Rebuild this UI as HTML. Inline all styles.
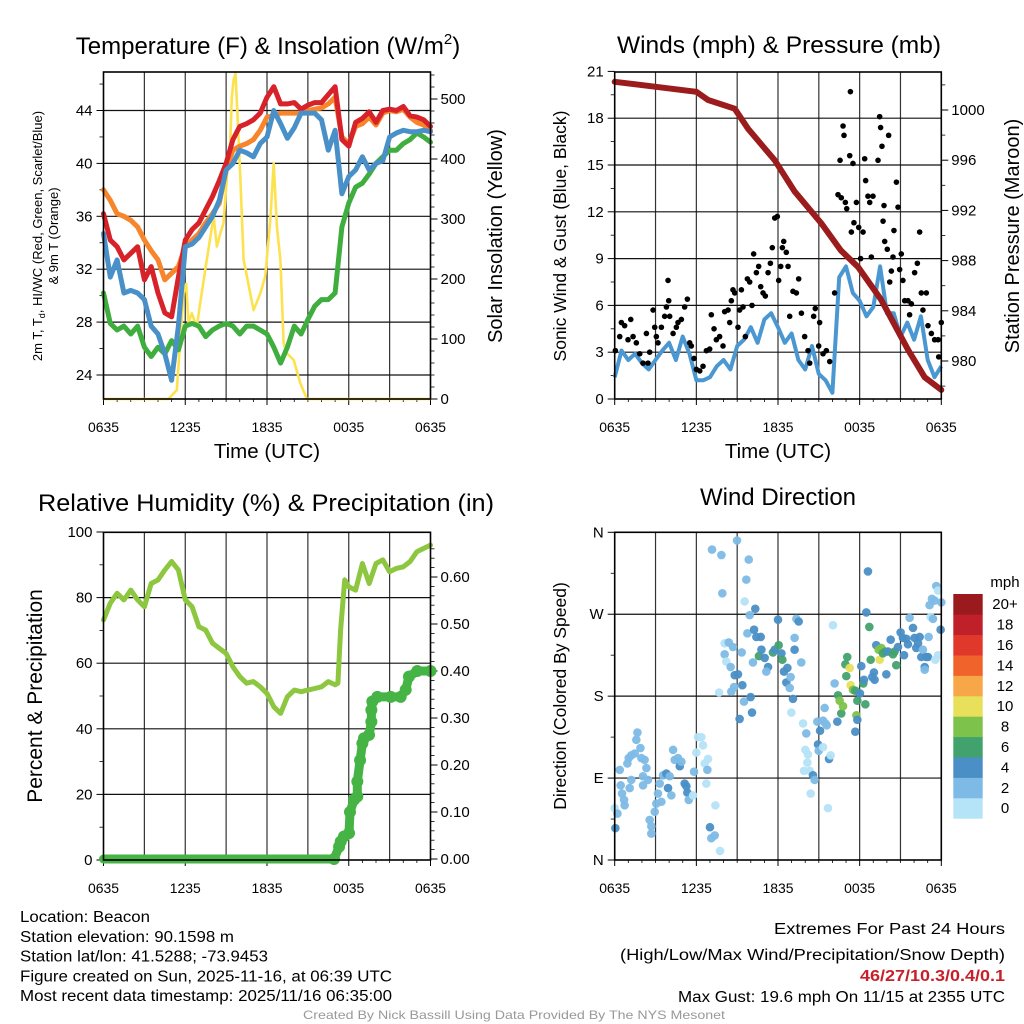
<!DOCTYPE html>
<html><head><meta charset="utf-8"><style>
html,body{margin:0;padding:0;background:#fff}
svg{display:block;font-family:"Liberation Sans",Arial,sans-serif}
</style></head><body>
<svg id="c" width="1024" height="1024" viewBox="0 0 1024 1024"></svg>
<script>
// ---------- DATA ----------
const hours = [0,0.5,1,1.5,2,2.5,3,3.5,4,4.5,5,5.5,6,6.5,7,7.5,8,8.5,9,9.5,10,10.5,11,11.5,12,12.5,13,13.5,14,14.5,15,15.5,16,16.5,17,17.5,18,18.5,19,19.5,20,20.5,21,21.5,22,22.5,23,23.5,24];
const xTickLabels = ["0635","1235","1835","0035","0635"];
const xTickHours = [0,6,12,18,24];
const tempRed = [36.2,34.2,33.7,32.7,33.2,33.7,31.2,32.2,30.2,28.7,28.4,31.4,34.2,35,35.5,36.5,37.5,38.7,40,41.8,42.8,43,43.3,43.8,45,45.8,44.5,44.5,44.6,44.1,44.4,44.6,44.6,45.2,45.8,41.8,41.3,43.1,43.4,43.9,43.1,44,44.1,44,44.3,43.6,43.5,43.3,42.8];
const tempOrange = [38,37.2,36.2,36,35.7,35.2,34.2,33.4,32.7,31.2,31.7,32.2,33.7,34.2,34.7,35.5,36.2,37,39.5,41,41.3,41.5,41.8,42.5,43.5,43.6,43.8,43.8,43.8,43.8,44,44.1,44.2,44.5,45,42,41.5,42.8,43,43.5,42.9,43.8,44,43.9,44.1,43.5,43.1,42.9,42.5];
const tempBlue = [34.7,31.4,32.7,30.2,30.4,30.2,29.7,27.7,27.1,25.6,23.6,27.7,33.7,33.9,34.4,35.2,36,37.2,39.5,40,41,40.8,40.5,41.5,42,44,43,41.9,42.7,43.8,43.8,43.8,43.3,41,42.5,37.7,39,39.5,40.5,39.5,40,40.2,42,42.3,42.5,42.4,42.4,42.5,42.4];
const tempGreen = [30.2,27.9,27.4,27.7,27.1,27.7,26.1,25.4,26.1,25.6,26.6,25.9,27.7,27.9,27.7,26.9,27.4,27.7,27.9,27.7,27.1,27.7,27.7,27.4,27.1,26.1,24.9,26.1,27.7,27.1,28.2,29.2,29.7,29.7,30.2,35.2,37,38.2,38.5,39.2,40,40.5,41,41,41.5,41.8,42.3,42,41.6];
const solarHours = [0,4.77,5.38,5.87,6.07,6.24,6.48,6.85,7.10,7.58,8.08,8.32,8.57,8.81,9.06,9.30,9.42,9.55,9.69,9.79,10.04,10.28,10.53,10.77,11.02,11.51,11.87,12.24,12.49,12.73,12.98,13.22,13.47,13.96,14.45,14.93,24];
const solarVals = [0,0,15,176,192,126,143,120,160,232,304,254,276,293,370,426,504,532,543,493,370,232,204,176,148,176,204,298,393,287,232,93,76,65,26,0,0];
const windSust = [1.4,3.1,2.5,2.9,2.3,1.9,2.5,3.1,3.6,2.5,4.0,2.9,1.2,1.2,1.4,2.1,2.5,1.9,3.4,3.8,4.6,3.6,5.1,5.5,4.6,3.6,4.2,2.5,1.9,3.4,1.6,1.2,0.4,7.8,8.5,6.8,6.3,5.3,5.9,8.5,5.5,5.5,4.0,4.9,3.8,5.3,2.5,1.4,2.1];
const gustHours = [0.05,0.37,0.49,0.73,0.98,1.18,1.35,1.59,1.84,2.08,2.33,2.45,2.57,2.82,2.94,3.06,3.18,3.43,3.67,3.80,3.92,3.97,4.04,4.29,4.53,4.65,4.90,5.14,5.34,5.51,5.63,5.83,6.00,6.25,6.49,6.74,6.98,7.10,7.30,7.47,7.71,7.96,8.08,8.33,8.45,8.57,8.69,8.82,9.06,9.18,9.31,9.43,9.60,9.75,9.92,10.09,10.21,10.41,10.58,10.73,10.90,11.07,11.27,11.44,11.58,11.76,11.95,12.05,12.20,12.32,12.42,12.61,12.74,12.86,13.10,13.35,13.52,13.72,13.96,14.21,14.33,14.62,14.74,14.99,15.06,15.31,15.55,15.80,16.16,16.41,16.56,16.65,16.78,16.85,16.95,17.05,17.27,17.32,17.39,17.51,17.58,17.76,17.93,18.07,18.25,18.37,18.44,18.61,18.74,18.86,18.98,19.35,19.47,19.54,19.64,19.72,19.79,19.84,20.03,20.13,20.21,20.33,20.45,20.52,20.70,20.82,20.94,21.06,21.18,21.31,21.55,21.67,21.80,22.04,22.24,22.41,22.53,22.65,22.90,23.02,23.27,23.51,23.76,23.81,24.0];
const gustVals = [3.1,4.0,4.9,4.7,3.8,5.1,4.0,3.6,2.9,2.3,4.2,2.3,3.0,5.7,4.6,4.0,3.6,4.6,5.3,5.9,7.6,6.3,5.3,4.2,4.6,4.9,5.1,5.9,6.4,3.6,3.4,2.6,1.9,1.8,2.1,3.1,3.2,5.4,4.5,3.8,4.0,3.4,5.6,5.7,4.9,6.3,7.0,6.8,4.6,5.7,7.0,5.9,4.0,7.7,7.5,6.0,9.3,8.1,8.5,7.2,6.8,6.6,8.1,8.7,9.7,11.6,11.7,7.6,8.5,9.7,10.1,9.4,8.5,5.3,6.9,6.8,7.7,5.5,4.0,3.1,2.3,5.3,5.8,3.4,4.9,2.9,3.1,2.4,6.8,13.1,15.3,12.9,17.5,16.9,12.6,12.2,15.6,19.7,10.7,15.1,11.3,12.6,11.0,9.0,10.7,15.4,14.0,13.0,12.6,9.1,13.0,15.3,18.1,17.4,16.2,11.4,12.4,10.1,9.6,16.9,7.5,8.2,9.1,10.8,13.9,12.3,8.3,9.3,7.6,6.3,6.3,5.4,6.1,8.1,8.7,10.7,6.8,5.7,6.8,4.7,4.2,3.8,3.8,2.7,4.9];
const presHours = [0,3.03,6.0,6.86,8.82,9.8,11.76,13.23,15.16,16.63,17.88,19.57,21.55,22.78,24];
const presVals = [1002.25,1001.85,1001.45,1000.8,1000.1,998.5,996.0,993.5,991.0,988.8,987.5,984.9,980.9,978.7,977.7];
const rhHours = [0,0.5,1,1.5,2,2.5,3,3.5,4,4.5,5,5.5,6,6.5,7,7.5,8,8.5,9,9.5,10,10.5,11,11.5,12,12.5,13,13.5,14,14.5,15,15.5,16,16.5,17,17.2,17.4,17.7,18,18.5,19,19.5,20,20.5,21,21.5,22,22.5,23,23.5,24];
const rhVals = [73.2,78.3,81.3,79.3,82.3,79.3,77.2,84.3,85.4,88.4,91,88.4,79.3,77.2,71.1,70.1,66.1,64.5,63,58.9,55.9,53.9,54.4,52.8,50.8,46.7,44.7,49.8,51.8,51.3,51.8,52.3,52.8,54.4,53.4,53.9,70.1,85.4,83.3,82.3,90.4,84.3,90.4,91.5,87.9,88.9,89.4,91,94,95,96];
const precipHours = [0,16.92,17.29,17.41,17.65,18.02,18.09,18.39,18.63,18.63,18.83,19.0,19.12,19.49,19.66,19.66,19.73,20.1,21.08,21.81,22.18,22.42,23.03,24];
const precipVals = [0,0,0.026,0.037,0.048,0.055,0.10,0.126,0.133,0.165,0.21,0.246,0.257,0.264,0.292,0.317,0.335,0.345,0.345,0.345,0.36,0.388,0.40,0.40];
const dirHours = [0.0,0.20,0.05,0.44,0.54,0.69,0.73,0.37,0.93,1.03,1.22,1.47,1.59,1.67,1.89,1.96,2.20,2.33,2.08,2.08,2.45,1.22,1.10,2.57,2.69,2.69,2.94,3.06,3.18,3.31,3.43,3.55,3.80,3.92,4.04,4.16,4.29,4.41,4.65,4.78,4.90,5.14,5.27,5.34,5.44,5.76,5.83,6.00,6.12,6.37,6.49,6.61,6.81,6.86,6.73,7.40,7.00,7.10,7.35,7.74,7.15,7.84,7.91,8.99,9.85,9.67,9.55,9.92,10.33,9.75,10.24,10.41,10.73,8.08,8.38,8.69,8.08,8.20,8.52,8.82,9.06,9.38,8.77,8.57,7.67,9.50,9.99,10.09,9.18,9.33,10.16,10.60,10.78,11.02,11.27,11.14,11.63,11.76,12.00,12.05,12.25,12.32,12.44,12.69,12.61,12.86,12.93,13.10,12.98,13.22,13.22,13.35,13.52,13.71,13.84,14.08,14.01,14.20,14.16,13.91,14.33,14.57,14.69,14.40,14.89,15.09,15.31,15.48,15.58,14.94,14.99,15.31,15.75,15.87,15.67,15.43,16.04,16.16,16.36,16.41,16.53,16.65,16.78,16.95,17.02,17.09,17.27,17.34,17.51,17.68,17.76,17.83,17.83,17.68,18.02,18.12,18.27,18.42,18.32,18.61,18.49,18.71,18.81,18.93,19.05,19.10,19.22,19.40,19.47,19.59,19.71,19.96,19.89,20.08,20.28,20.45,20.57,20.69,20.82,21.01,21.18,21.26,21.43,21.55,21.67,21.92,22.04,22.16,22.29,22.41,22.53,22.65,22.78,22.90,23.02,22.78,23.07,23.22,23.39,23.14,23.31,23.51,23.63,23.76,24.0,23.95,23.76,23.56];
const dirVals = [57,51,35,82,73,66,60,99,106,112,115,117,132,140,123,112,110,101,92,82,88,88,79,44,37,29,53,62,73,84,64,93,95,79,92,71,121,110,112,103,108,84,81,74,66,71,97,118,135,135,126,106,99,111,84,60,36,24,27,10,341,335,293,351,330,308,284,269,276,249,253,245,245,238,239,234,226,218,212,203,204,192,190,185,184,174,179,162,155,228,217,224,231,222,212,207,228,231,264,236,227,220,207,211,195,189,201,177,162,244,231,265,262,217,150,139,121,116,107,98,98,93,88,73,152,142,153,150,148,127,120,124,111,115,57,167,258,194,152,181,175,161,169,215,202,223,211,192,187,186,159,175,154,141,183,213,194,171,198,317,272,256,220,201,206,198,236,231,220,233,227,204,229,229,242,226,229,214,234,250,244,225,243,237,266,255,244,233,238,245,223,231,212,223,223,209,245,267,265,280,287,285,301,296,283,253,225,220];
const dirSpeed = [1,3,5,3,3,3,3,3,3,3,3,3,3,3,3,3,3,3,3,3,3,3,3,3,3,3,3,3,3,3,3,3,5,5,3,3,3,3,3,5,3,5,5,5,3,1,3,1,1,1,1,1,3,1,1,1,5,3,3,1,3,3,3,3,3,3,1,3,5,3,5,5,5,1,3,3,3,1,3,5,5,5,3,3,1,3,5,5,5,3,3,7,5,5,5,3,7,5,5,7,5,7,5,5,5,3,3,5,1,3,5,3,5,3,1,3,1,1,1,1,1,5,3,1,3,5,3,3,3,5,3,1,5,1,1,3,1,3,5,7,9,7,9,7,7,7,11,11,9,7,9,7,5,5,5,5,7,7,5,5,5,7,7,5,5,5,5,9,11,9,7,5,7,5,5,7,7,7,5,5,5,5,5,5,3,5,5,5,5,5,5,3,5,5,5,3,3,1,3,3,3,3,3,1,3,5,1,1];
const speedBins = ["0","2","4","6","8","10","12","14","16","18","20+"];
const speedColors = ["#b5e3f8","#7dbbe6","#4a8fc6","#42a26e","#7dc24b","#e8df5a","#f7a648","#f0632b","#e0392b","#c0202a","#9b1a1e"];

// ---------- HELPERS ----------
const NS="http://www.w3.org/2000/svg";
const svg=document.getElementById('c');
function mk(tag,attrs,parent){const e=document.createElementNS(NS,tag);for(const k in attrs)e.setAttribute(k,attrs[k]);(parent||svg).appendChild(e);return e;}
function txt(s,x,y,size,anchor,parent,extra){const e=mk('text',Object.assign({x:x,y:y,'font-size':size,'text-anchor':anchor||'start',fill:'#000'},extra||{}),parent);e.textContent=s;return e;}
function poly(xs,ys,fx,fy){return xs.map((v,i)=>fx(v).toFixed(1)+','+fy(ys[i]).toFixed(1)).join(' ');}

const P1={x0:103.5,x1:430.5,y0:72,y1:399};
const P2={x0:614.7,x1:941.3,y0:72,y1:399};
const P3={x0:103.5,x1:430.5,y0:532.3,y1:860};
const P4={x0:614.7,x1:941.3,y0:532.3,y1:860};
function xs(P){return h=>P.x0+h*(P.x1-P.x0)/24;}

function frameAndX(P,name){
  const g=mk('g',{});
  
  
  const fx=xs(P);
  for(let h=3;h<24;h+=3){mk('line',{x1:fx(h),x2:fx(h),y1:P.y0,y2:P.y1,stroke:'#333','stroke-width':1.2},g);}
  xTickLabels.forEach((l,i)=>{
    const x=fx(xTickHours[i]);
    mk('line',{x1:x,x2:x,y1:P.y1,y2:P.y1+6,stroke:'#000','stroke-width':1},g);
    const t=txt(l,x,P.y1+33,14,'middle',g,{textLength:31,lengthAdjust:'spacingAndGlyphs'});
    
    
  });
  for(let h=1;h<24;h++){if(h%6){const x=fx(h);mk('line',{x1:x,x2:x,y1:P.y1,y2:P.y1+3,stroke:'#000','stroke-width':0.8},g);}}
  return g;
}
function border(P,name){const r=mk('rect',{x:P.x0,y:P.y0,width:P.x1-P.x0,height:P.y1-P.y0,fill:'none',stroke:'#000','stroke-width':1.6});}
function hgrid(P,fy,vals,g){vals.forEach(v=>mk('line',{x1:P.x0,x2:P.x1,y1:fy(v),y2:fy(v),stroke:'#111','stroke-width':1.2},g));}
function yAxis(P,fy,vals,labels,side,minor,g,lw){
  vals.forEach((v,i)=>{
    const y=fy(v);
    if(side==='left'){mk('line',{x1:P.x0-7,x2:P.x0,y1:y,y2:y,stroke:'#000'},g);const t=txt(labels[i],P.x0-11,y+5,15,'end',g);}
    else{mk('line',{x1:P.x1,x2:P.x1+7,y1:y,y2:y,stroke:'#000'},g);const t=txt(labels[i],P.x1+10,y+5,15,'start',g,lw?{textLength:lw,lengthAdjust:'spacingAndGlyphs'}:{});}
  });
  (minor||[]).forEach(v=>{const y=fy(v);if(side==='left')mk('line',{x1:P.x0-4,x2:P.x0,y1:y,y2:y,stroke:'#000','stroke-width':0.8},g);else mk('line',{x1:P.x1,x2:P.x1+4,y1:y,y2:y,stroke:'#000','stroke-width':0.8},g);});
}
function rotLabel(s,x,y,size,g,extra){const t=mk('text',Object.assign({x:0,y:0,'font-size':size,'text-anchor':'middle',transform:`translate(${x},${y}) rotate(-90)`,fill:'#000'},extra||{}),g);t.textContent=s;return t;}

// ---------- PANEL 1 ----------
(function(){
  const P=P1,fx=xs(P);
  const ty=v=>375-(v-24)*13.225;
  const iy=v=>399-v*0.6;
  const g=frameAndX(P,'temperature-panel');
  hgrid(P,ty,[24,28,32,36,40,44],g);
  yAxis(P,ty,[24,28,32,36,40,44],["24","28","32","36","40","44"],'left',[26,30,34,38,42,46],g);
  yAxis(P,iy,[0,100,200,300,400,500],["0","100","200","300","400","500"],'right',[20,40,60,80,120,140,160,180,220,240,260,280,320,340,360,380,420,440,460,480,520,540],g);
  const series=[['tempGreen',tempGreen,'#3fae3f'],['tempOrange',tempOrange,'#f6852b'],['tempRed',tempRed,'#d7222a'],['tempBlue',tempBlue,'#4a90c8']];
  const yl=mk('polyline',{points:poly(solarHours,solarVals,fx,iy),fill:'none',stroke:'#fde24f','stroke-width':2.6,'stroke-linejoin':'round'});
  
  
  series.forEach(s=>{
    const l=mk('polyline',{points:poly(hours,s[1],fx,ty),fill:'none',stroke:s[2],'stroke-width':5,'stroke-linejoin':'round','stroke-linecap':'round'});
    
    
  });
  border(P,'temperature-panel');
  const t=mk('text',{x:268,y:54,'font-size':24,'text-anchor':'middle'});t.innerHTML='Temperature (F) &amp; Insolation (W/m<tspan dy="-10" font-size="15">2</tspan><tspan dy="10">)</tspan>';
  
  const xl=txt('Time (UTC)',267,458,20.5,'middle');
  const r=rotLabel('Solar Insolation (Yellow)',502,236,20);
  const l1=mk('text',{x:0,y:0,'font-size':13,'text-anchor':'middle',transform:'translate(42,236) rotate(-90)'});
  l1.innerHTML='2m T, T<tspan dy="3" font-size="9">d</tspan><tspan dy="-3">, HI/WC (Red, Green, Scarlet/Blue)</tspan>';
  
  const l2=rotLabel('& 9m T (Orange)',58,236,13);
})();

// ---------- PANEL 2 ----------
(function(){
  const P=P2,fx=xs(P);
  const wy=v=>399-v*15.6;
  const py=p=>110+(1000-p)*12.55;
  const g=frameAndX(P,'winds-panel');
  hgrid(P,wy,[3,6,9,12,15,18],g);
  yAxis(P,wy,[0,3,6,9,12,15,18,21],["0","3","6","9","12","15","18","21"],'left',[1.5,4.5,7.5,10.5,13.5,16.5,19.5],g);
  yAxis(P,py,[980,984,988,992,996,1000],["980","984","988","992","996","1000"],'right',[978,982,986,990,994,998,1002],g);
  const b=mk('polyline',{points:poly(hours,windSust,fx,wy),fill:'none',stroke:'#4a97d2','stroke-width':4,'stroke-linejoin':'round'});
  
  
  const gg=mk('g',{});
  
  
  gustHours.forEach((h,i)=>{
    const c=mk('circle',{cx:fx(h),cy:wy(gustVals[i]),r:2.8,fill:'#000'},gg);
    
    
  });
  const p=mk('polyline',{points:poly(presHours,presVals,fx,py),fill:'none',stroke:'#9b1c1c','stroke-width':6,'stroke-linejoin':'round','stroke-linecap':'round'});
  
  
  border(P,'winds-panel');
  const t=txt('Winds (mph) & Pressure (mb)',779,53,24.5,'middle');
  const xl=txt('Time (UTC)',778,458,20.5,'middle');
  const r1=rotLabel('Sonic Wind & Gust (Blue, Black)',566,236,17.5);
  const r2=rotLabel('Station Pressure (Maroon)',1019,236,20);
})();

// ---------- PANEL 3 ----------
(function(){
  const P=P3,fx=xs(P);
  const ry=v=>860-v*3.28;
  const qy=v=>859-v*470;
  const g=frameAndX(P,'humidity-panel');
  hgrid(P,ry,[20,40,60,80],g);
  yAxis(P,ry,[0,20,40,60,80,100],["0","20","40","60","80","100"],'left',[10,30,50,70,90],g);
  yAxis(P,qy,[0,0.1,0.2,0.3,0.4,0.5,0.6],["0.00","0.10","0.20","0.30","0.40","0.50","0.60"],'right',[0.02,0.04,0.06,0.08,0.12,0.14,0.16,0.18,0.22,0.24,0.26,0.28,0.32,0.34,0.36,0.38,0.42,0.44,0.46,0.48,0.52,0.54,0.56,0.58,0.62,0.64,0.66],g);
  const rl=mk('polyline',{points:poly(rhHours,rhVals,fx,ry),fill:'none',stroke:'#8dc63f','stroke-width':5,'stroke-linejoin':'round','stroke-linecap':'round'});
  
  
  const pl=mk('polyline',{points:poly(precipHours,precipVals,fx,qy),fill:'none',stroke:'#45b445','stroke-width':9,'stroke-linejoin':'round','stroke-linecap':'round'});
  
  
  precipHours.forEach((h,i)=>{if(h>16){const c=mk('circle',{cx:fx(h),cy:qy(precipVals[i]),r:6,fill:'#45b445'});
    
    }});
  border(P,'humidity-panel');
  const t=txt('Relative Humidity (%) & Precipitation (in)',266,511,24,'middle',null,{textLength:456,lengthAdjust:'spacingAndGlyphs'});
  const r=rotLabel('Percent & Precipitation',42,696,21);
})();

// ---------- PANEL 4 ----------
(function(){
  const P=P4,fx=xs(P);
  const dy=d=>860-d*(P.y1-P.y0)/360;
  const g=frameAndX(P,'wind-direction-panel');
  hgrid(P,dy,[90,180,270],g);
  yAxis(P,dy,[0,90,180,270,360],["N","E","S","W","N"],'left',[45,135,225,315],g);
  const gg=mk('g',{'fill-opacity':0.95});
  
  
  dirHours.forEach((h,i)=>{
    const bin=Math.min(10,Math.floor(dirSpeed[i]/2));
    const c=mk('circle',{cx:fx(h),cy:dy(dirVals[i]),r:4.3,fill:speedColors[bin]},gg);
    
    
  });
  border(P,'wind-direction-panel');
  const t=txt('Wind Direction',778,505,24,'middle');
  const r=rotLabel('Direction (Colored By Speed)',566,696,17.5);
  const cb=mk('g',{});
  
  
  const top=594,ch=20.4;
  speedBins.forEach((lab,i)=>{
    const y=top+(10-i)*ch;
    mk('rect',{x:953.3,y:y,width:29.4,height:ch+0.3,fill:speedColors[i]},cb);
    const tt=txt(lab,1005,y+ch/2+5,15,'middle',cb);
    
    
  });
  const u=txt('mph',1005,587,15,'middle',cb);
})();

// ---------- FOOTER ----------
(function(){
  const g=mk('g',{});
  
  
  const L=[["Location: Beacon",130],["Station elevation: 90.1598 m",214],["Station lat/lon: 41.5288; -73.9453",248],["Figure created on Sun, 2025-11-16, at 06:39 UTC",372],["Most recent data timestamp: 2025/11/16 06:35:00",372]];
  L.forEach((l,i)=>{const t=txt(l[0],20,922+i*19.8,15.5,'start',g,{textLength:l[1],lengthAdjust:'spacingAndGlyphs'});});
  const g2=mk('g',{});
  
  
  const R=[["Extremes For Past 24 Hours",231,934,'#000','normal'],["(High/Low/Max Wind/Precipitation/Snow Depth)",385,960,'#000','normal'],["46/27/10.3/0.4/0.1",145,981,'#c8202a','bold'],["Max Gust: 19.6 mph On 11/15 at 2355 UTC",327,1002,'#000','normal']];
  R.forEach(l=>{const t=txt(l[0],1005,l[2],15.5,'end',g2,{textLength:l[1],lengthAdjust:'spacingAndGlyphs',fill:l[3],'font-weight':l[4]});});
  const c=txt('Created By Nick Bassill Using Data Provided By The NYS Mesonet',514,1019,12,'middle',null,{fill:'#999',textLength:422,lengthAdjust:'spacingAndGlyphs'});
  
})();
</script>
</body></html>
